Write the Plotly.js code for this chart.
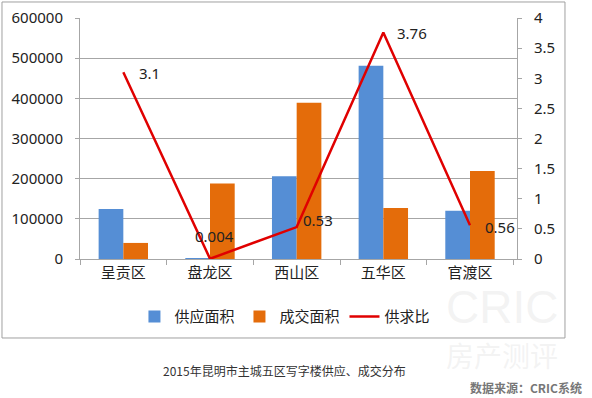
<!DOCTYPE html>
<html>
<head>
<meta charset="utf-8">
<script src="https://cdn.plot.ly/plotly-3.0.1.min.js"></script>
<style>html,body{margin:0;padding:0;background:#fff;}#chart{width:592px;height:398px;}</style>
</head>
<body>
<div id="chart"></div>
<script>
const districts = ['呈贡区', '盘龙区', '西山区', '五华区', '官渡区'];
const supplyArea = [124500, 2500, 206000, 481000, 120000];
const dealArea = [40000, 188000, 389000, 127000, 219000];
const supplyRatio = [3.1, 0.004, 0.53, 3.76, 0.56];
const ratioLabels = ['3.1', '0.004', '0.53', '3.76', '0.56'];
const leftTicks = [0, 100000, 200000, 300000, 400000, 500000, 600000];
const rightTicks = [0, 0.5, 1, 1.5, 2, 2.5, 3, 3.5, 4];
const rightTickText = ['0', '0.5', '1', '1.5', '2', '2.5', '3', '3.5', '4'];

const FONT = '"Noto Sans", "Noto Sans CJK SC", sans-serif';
const CJK = '"Noto Sans CJK SC", "Noto Sans", sans-serif';

// label placement (pixel offsets only)
const labelPlace = [
  {xanchor: 'left', xshift: 14, yshift: -1},
  {xanchor: 'center', xshift: 4, yshift: 23},
  {xanchor: 'left', xshift: 4, yshift: 7},
  {xanchor: 'left', xshift: 12, yshift: -1},
  {xanchor: 'left', xshift: 13, yshift: -2}
];

const traces = [
  {type: 'bar', name: '供应面积', x: districts, y: supplyArea,
   marker: {color: '#558ed5'}, hoverinfo: 'skip'},
  {type: 'bar', name: '成交面积', x: districts, y: dealArea,
   marker: {color: '#e46c0a'}, hoverinfo: 'skip'},
  {type: 'scatter', mode: 'lines', name: '供求比', x: districts, y: supplyRatio,
   yaxis: 'y2', line: {color: '#e00000', width: 2.5}, hoverinfo: 'skip'}
];

const annotations = districts.map((d, i) => ({
  x: d, y: supplyRatio[i], xref: 'x', yref: 'y2', text: ratioLabels[i], showarrow: false,
  xanchor: labelPlace[i].xanchor, yanchor: 'middle', xshift: labelPlace[i].xshift, yshift: labelPlace[i].yshift,
  font: {size: 15, family: FONT, color: '#222'}
}));

annotations.push(
  {text: 'CRIC', xref: 'paper', yref: 'paper', x: 1.098, y: -0.2, xanchor: 'right', yanchor: 'middle',
   showarrow: false, font: {size: 46, family: '"Liberation Sans", Arial, sans-serif', color: 'rgba(215,215,215,0.3)'}},
  {text: '房产测评', xref: 'paper', yref: 'paper', x: 1.098, y: -0.4, xanchor: 'right', yanchor: 'middle',
   showarrow: false, font: {size: 28, family: CJK, color: 'rgba(215,215,215,0.3)'}},
  {text: '2015年昆明市主城五区写字楼供应、成交分布', xref: 'paper', yref: 'paper', x: 0.467, y: -0.461,
   xanchor: 'center', yanchor: 'middle', showarrow: false, font: {size: 12, family: CJK, color: '#333'}},
  {text: '<b>数据来源：CRIC系统</b>', xref: 'paper', yref: 'paper', x: 1.154, y: -0.535,
   xanchor: 'right', yanchor: 'middle', showarrow: false, font: {size: 12, family: CJK, color: '#777'}}
);

const layout = {
  width: 592, height: 398,
  margin: {l: 80, r: 75, t: 18, b: 139},
  paper_bgcolor: '#fff', plot_bgcolor: '#fff',
  font: {family: FONT, size: 15, color: '#222'},
  barmode: 'group', bargap: 0.43, bargroupgap: 0,
  showlegend: true,
  legend: {orientation: 'h', x: 0.469, xanchor: 'center', y: -0.24, yanchor: 'middle',
           font: {size: 15, family: CJK, color: '#222'}, traceorder: 'normal'},
  xaxis: {type: 'category', showline: true, linecolor: '#a6a6a6', linewidth: 1,
          ticks: 'outside', tickson: 'boundaries', ticklen: 5, tickcolor: '#a6a6a6',
          tickfont: {size: 15, family: CJK, color: '#222'}, showgrid: false},
  yaxis: {range: [0, 600000], tickvals: leftTicks, ticktext: leftTicks.map(String),
          showline: true, linecolor: '#a6a6a6', ticks: 'outside', ticklen: 4, tickcolor: '#a6a6a6',
          ticklabelstandoff: 9,
          showgrid: true, gridcolor: '#a6a6a6', gridwidth: 1, zeroline: false,
          tickfont: {size: 15, family: FONT, color: '#222'}},
  yaxis2: {overlaying: 'y', side: 'right', range: [0, 4], tickvals: rightTicks, ticktext: rightTickText,
           showline: true, linecolor: '#a6a6a6', ticks: 'outside', ticklen: 4, tickcolor: '#a6a6a6',
           ticklabelstandoff: 9,
           showgrid: false, zeroline: false, tickfont: {size: 15, family: FONT, color: '#222'}},
  shapes: [
    {type: 'rect', xref: 'paper', yref: 'paper', x0: -0.1785, x1: 1.1098, y0: -0.3278, y1: 1.0664,
     line: {color: '#a0a0a0', width: 1}, fillcolor: 'rgba(0,0,0,0)', layer: 'below'}
  ],
  annotations: annotations
};

Plotly.newPlot('chart', traces, layout, {staticPlot: true, displayModeBar: false});
</script>
</body>
</html>
